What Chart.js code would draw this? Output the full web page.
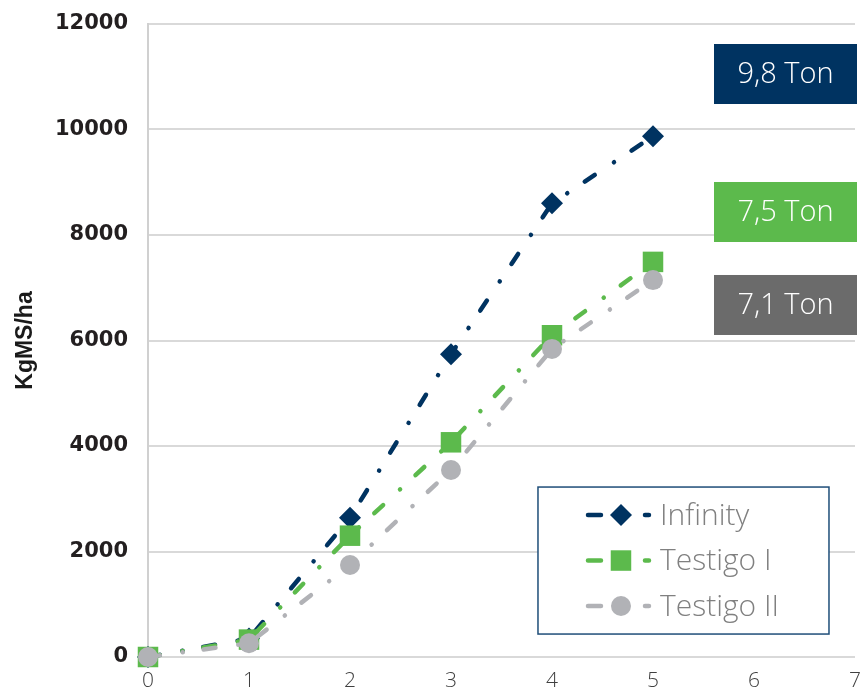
<!DOCTYPE html>
<html><head><meta charset="utf-8">
<script src="https://cdn.jsdelivr.net/npm/chart.js@4"></script>
<style>html,body{margin:0;padding:0;background:#fff;}canvas{display:block;}</style>
</head><body>
<canvas id="c" width="862" height="693"></canvas>
<script>
const xValues = [0, 1, 2, 3, 4, 5];
const infinity = [0, 350, 2640, 5740, 8600, 9870];
const testigoI = [0, 330, 2300, 4070, 6100, 7490];
const testigoII = [0, 260, 1745, 3545, 5840, 7145];
const seriesNames = ['Infinity', 'Testigo I', 'Testigo II'];
const seriesColors = ['#003361', '#5cba4c', '#b1b2b6'];
const pointStyles = ['rectRot', 'rect', 'circle'];
const pointRadii = [11, 14.5, 10];
const boxLabels = ['9,8 Ton', '7,5 Ton', '7,1 Ton'];
const boxColors = ['#003361', '#5cba4c', '#6b6b6b'];
const yTicks = [0, 2000, 4000, 6000, 8000, 10000, 12000];
const xTicks = [0, 1, 2, 3, 4, 5, 6, 7];

const dash = [12, 23, 0.1, 21];
const allSeries = [infinity, testigoI, testigoII];
const datasets = allSeries.map((s, i) => ({
  label: seriesNames[i],
  data: xValues.map((x, j) => ({x: x, y: s[j]})),
  borderColor: seriesColors[i],
  backgroundColor: seriesColors[i],
  borderWidth: 4.5,
  borderDash: dash,
  borderCapStyle: 'round',
  pointStyle: pointStyles[i],
  pointRadius: pointRadii[i],
  pointBorderWidth: 0,
  pointHoverRadius: pointRadii[i],
  tension: 0,
  order: 2 - i,
  clip: false,
  fill: false
}));

const overlay = {
  id: 'overlay',
  afterDraw(chart) {
    const ctx = chart.ctx;
    const ca = chart.chartArea;
    const W = ca.right - ca.left, H = ca.bottom - ca.top;
    const boxTops = [0.0316, 0.2496, 0.3965];
    ctx.save();
    boxLabels.forEach((t, i) => {
      const bw = 143, bh = 60;
      const bx = ca.right - bw + 2;
      const by = ca.top + boxTops[i] * H;
      ctx.fillStyle = boxColors[i];
      ctx.fillRect(bx, by, bw, bh);
      ctx.fillStyle = '#ffffff';
      ctx.font = '300 29px "Open Sans"';
      ctx.textAlign = 'center';
      ctx.textBaseline = 'middle';
      ctx.fillText(t, bx + bw / 2, by + bh / 2 + 1);
    });
    const lx = ca.left + 0.5516 * W, ly = ca.top + 0.7315 * H;
    const lw = 291, lh = 147;
    ctx.fillStyle = '#ffffff';
    ctx.fillRect(lx, ly, lw, lh);
    ctx.strokeStyle = '#1f4e79';
    ctx.lineWidth = 1.5;
    ctx.strokeRect(lx, ly, lw, lh);
    chart.data.datasets.forEach((ds, i) => {
      const cy = ly + 28 + i * 45.5;
      const sx = lx + 50;
      ctx.strokeStyle = ds.borderColor;
      ctx.lineWidth = 4.5;
      ctx.lineCap = 'round';
      ctx.beginPath();
      ctx.moveTo(sx, cy); ctx.lineTo(sx + 13, cy);
      ctx.moveTo(sx + 57, cy); ctx.lineTo(sx + 61, cy);
      ctx.stroke();
      const r = ds.pointRadius;
      ctx.fillStyle = ds.backgroundColor;
      ctx.beginPath();
      const mx = sx + 33;
      if (ds.pointStyle === 'rectRot') {
        ctx.moveTo(mx - r, cy); ctx.lineTo(mx, cy - r); ctx.lineTo(mx + r, cy); ctx.lineTo(mx, cy + r); ctx.closePath();
      } else if (ds.pointStyle === 'rect') {
        const s = r * Math.SQRT1_2;
        ctx.rect(mx - s, cy - s, 2 * s, 2 * s);
      } else {
        ctx.arc(mx, cy, r, 0, Math.PI * 2);
      }
      ctx.fill();
      ctx.fillStyle = '#808080';
      ctx.font = '300 30px "Open Sans"';
      ctx.textAlign = 'left';
      ctx.textBaseline = 'middle';
      ctx.fillText(ds.label, sx + 72, cy + 1);
    });
    ctx.restore();
  }
};

new Chart(document.getElementById('c'), {
  type: 'line',
  data: { datasets: datasets },
  options: {
    responsive: false,
    animation: false,
    layout: { autoPadding: false, padding: { top: 0, right: 0, left: 6, bottom: 0 } },
    plugins: { legend: { display: false }, tooltip: { enabled: false } },
    scales: {
      x: {
        type: 'linear', min: 0, max: 7,
        afterBuildTicks: (s) => { s.ticks = xTicks.map(v => ({value: v})); },
        afterFit: (s) => { s.height = 36; s.paddingRight = 7; },
        grid: { display: false, drawTicks: false },
        border: { display: false },
        ticks: { color: '#404040', font: { family: 'Open Sans', size: 21, weight: '300' }, padding: 11, maxRotation: 0 }
      },
      y: {
        min: 0, max: 12000,
        afterBuildTicks: (s) => { s.ticks = yTicks.map(v => ({value: v})); },
        afterFit: (s) => { s.width = 142; s.paddingTop = 24; },
        grid: { color: '#d9d9d9', lineWidth: 2, drawTicks: false },
        border: { display: true, color: '#d0d0d0', width: 2 },
        ticks: { color: '#231f20', font: { family: 'DejaVu Sans', size: 21, weight: 'bold' }, padding: 20, callback: (v) => String(v) },
        title: { display: true, text: 'KgMS/ha', color: '#1a1a1a', font: { family: 'Liberation Sans', size: 23, weight: 'bold' }, padding: { top: 6, bottom: 0 } }
      }
    }
  },
  plugins: [overlay]
});
</script>
</body></html>
